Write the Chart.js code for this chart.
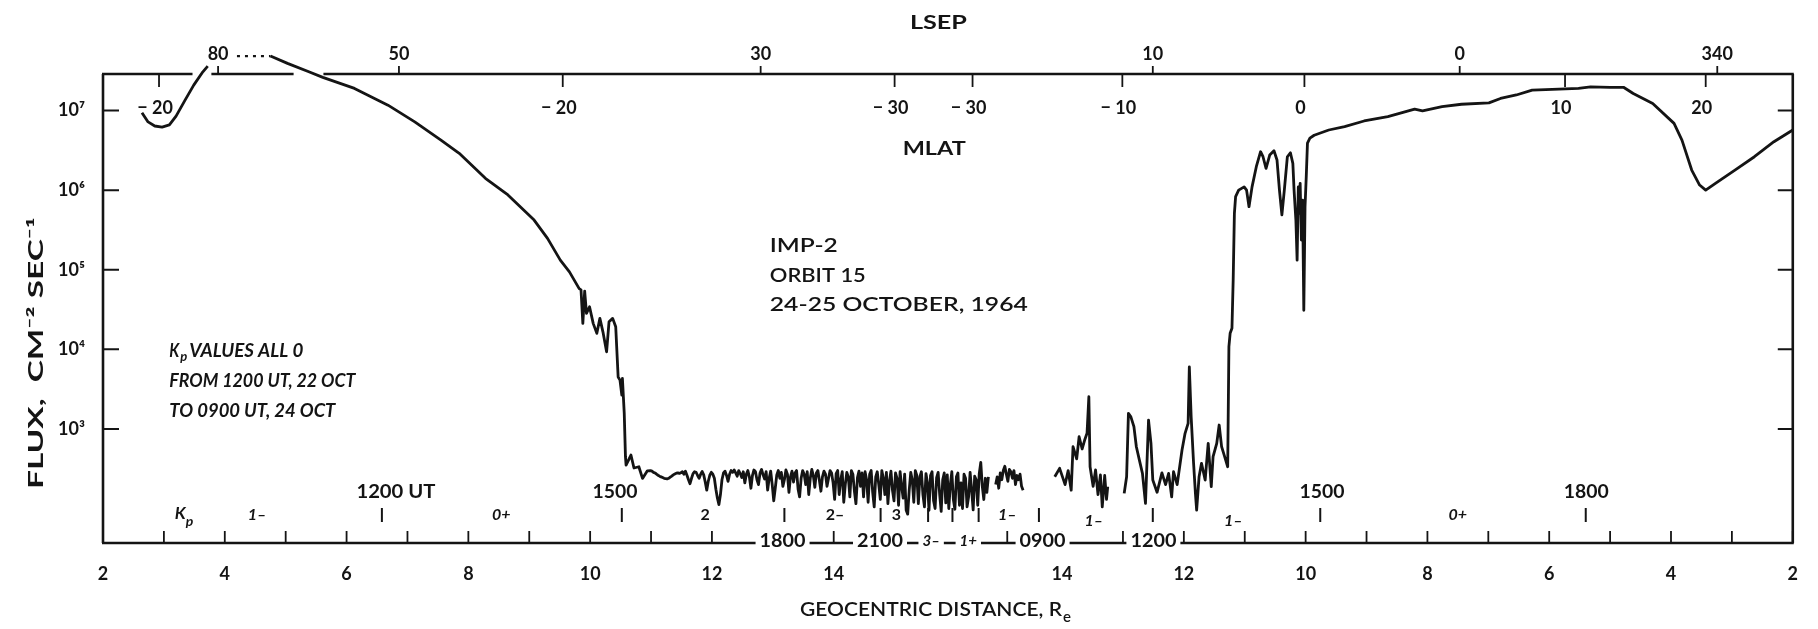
<!DOCTYPE html>
<html>
<head>
<meta charset="utf-8">
<title>IMP-2 orbit 15 flux</title>
<script src="https://cdn.jsdelivr.net/npm/chart.js@4.4.0/dist/chart.umd.min.js"></script>
<style>
  html, body { margin: 0; padding: 0; background: #fff; }
  canvas { display: block; }
</style>
</head>
<body>
<canvas id="chart" width="1818" height="629"></canvas>
<script>
const ink = "#141414";
const family = 'Lato, "DejaVu Sans", sans-serif';

// broken distance axis: outbound R = x, inbound R = inboundOrigin - x
const inboundOrigin = 31.75;
const distanceTicks = [2, 3, 4, 5, 6, 7, 8, 9, 10, 11, 12, 13, 14];
const breakTickU = [16.85];
const fluxTicks = [1e3, 1e4, 1e5, 1e6, 1e7];
const yMin = 36.9;
const yMax = 2.88e7;

// flux trace
const lowPassU = [2.64, 2.74, 2.85, 2.97, 3.09, 3.20, 3.35, 3.49, 3.64, 3.72];
const lowPassFlux = [9.4e6, 7.2e6, 6.4e6, 6.2e6, 6.6e6, 8.5e6, 1.36e7, 2.09e7, 3.07e7, 3.62e7];

const dottedU = [4.20, 4.75];
const dottedFlux = [4.84e7, 4.84e7];

const declineU = [4.75, 5.03, 5.38, 5.61, 6.13, 6.68, 7.12, 7.55, 7.85, 8.28,
	8.65, 9.08, 9.30, 9.51, 9.66, 9.82, 9.85, 9.88, 9.91, 9.94,
	9.99, 10.05, 10.11, 10.16, 10.21, 10.27, 10.31, 10.37, 10.42, 10.46,
	10.49, 10.52, 10.53, 10.56, 10.58, 10.59, 10.67, 10.72, 10.80, 10.86, 10.94];
const declineFlux = [4.84e7, 3.92e7, 3.07e7, 2.61e7, 1.90e7, 1.17e7, 7.2e6, 4.26e6, 2.90e6, 1.41e6,
	8.7e5, 4.21e5, 2.48e5, 1.32e5, 9.4e4, 5.8e4, 5.6e4, 2.12e4, 5.4e4, 2.83e4,
	3.43e4, 2.12e4, 1.59e4, 2.45e4, 1.66e4, 9.3e3, 2.22e4, 2.45e4, 1.92e4, 4.5e3,
	4.1e3, 2.67e3, 4.3e3, 1.57e3, 448, 352, 470, 323, 335, 239, 298];

// background counts beyond the boundary, sampled every 0.025 R
const noiseStepU = 0.025;
const outNoiseStartU = 10.99;
const outNoiseFlux = [
	300, 295, 285, 280, 270, 262, 255, 250, 245, 240, 238, 236, 240, 248, 256, 265, 272, 278, 280, 276,
	282, 290, 270, 295, 262, 230, 205, 240, 275, 290, 286, 260, 240, 270, 292, 265, 215, 170, 220, 262,
	285, 270, 240, 175, 135, 112, 150, 230, 280, 295, 260, 220, 270, 300, 285, 305, 280, 255, 300, 275,
	245, 290, 210, 270, 300, 250, 180, 260, 305, 290, 230, 200, 280, 310, 265, 235, 290, 170, 240, 295,
	200, 125, 180, 265, 300, 240, 285, 190, 230, 305, 270, 160, 250, 295, 215, 280, 300, 175, 140, 240,
	300, 270, 200, 290, 150, 240, 310, 260, 185, 280, 300, 225, 165, 250, 295, 270, 190, 240, 300, 280,
	210, 130, 275, 300, 150, 230, 290, 120, 200, 285, 250, 140, 300, 270, 165, 115, 245, 295, 190, 280,
	140, 290, 230, 120, 270, 300, 160, 105, 250, 290, 200, 130, 300, 240, 150, 285, 115, 220, 295, 170,
	125, 280, 240, 110, 290, 190, 135, 270, 95, 85, 170, 285, 230, 120, 300, 260, 115, 250, 290, 150,
	105, 275, 210, 95, 260, 290, 125, 100, 245, 285, 150, 92, 230, 280, 118, 265, 100, 200, 290, 130,
	98, 250, 280, 110, 210, 100, 270, 240, 105, 140, 285, 170, 96, 255, 230, 110, 275, 380, 190, 130,
	240, 160, 250];
const apogeeStartU = 16.66;
const apogeeFlux = [200, 250, 180, 280, 230, 300, 340, 270, 220, 310, 290, 240, 300, 200, 260, 230, 270, 190, 170];

const inboundU = [17.63, 17.71, 17.80, 17.85, 17.90, 17.93, 17.99, 18.03, 18.08, 18.12,
	18.16, 18.19, 18.21, 18.26, 18.30, 18.34, 18.38, 18.41, 18.45, 18.48,
	18.50, 18.64, 18.77, 18.81, 18.84, 18.88, 18.93, 18.97, 19.02, 19.07,
	19.12, 19.17, 19.21, 19.24, 19.31, 19.39, 19.45, 19.50, 19.55, 19.58,
	19.64, 19.72, 19.77, 19.82, 19.84, 19.87, 19.91, 19.94, 19.96, 20.00,
	20.04, 20.10, 20.15, 20.20, 20.23, 20.29, 20.33, 20.37, 20.42, 20.47,
	20.49, 20.51, 20.54, 20.56, 20.58, 20.60, 20.65, 20.74, 20.78, 20.82,
	20.87, 20.94, 21.01, 21.05, 21.10, 21.16, 21.23, 21.28, 21.32, 21.36,
	21.40, 21.45, 21.50, 21.54, 21.56, 21.59, 21.61, 21.63, 21.64, 21.66,
	21.68, 21.70, 21.72, 21.74, 21.76, 21.78, 21.82, 21.89, 22.13, 22.39,
	22.71, 23.10, 23.54, 23.67, 23.99, 24.31, 24.76, 24.95, 25.21, 25.47,
	25.91, 26.23, 26.43, 26.75, 26.97, 27.13, 27.45, 27.80, 27.93, 28.09,
	28.22, 28.32, 28.48, 28.80, 29.12, 29.44, 29.75];
const inboundFlux = [251, 320, 200, 300, 170, 598, 420, 798, 560, 720,
	881, 2540, 335, 190, 305, 150, 264, 105, 260, 130,
	188, null, 155, 251, 1570, 1420, 1070, 598, 406, 277,
	116, 1290, 659, 228, 160, 280, 200, 277, 140, 290,
	200, 543, 881, 1175, 6040, 1420, 370, 155, 95.7, 251,
	370, 228, 659, 188, 448, 659, 1120, 598, 448, 335,
	1.08e4, 1.59e4, 1.84e4, 7.4e4, 5.1e5, 8.3e5, 1.0e6, 1.1e6, 1.0e6, 6.2e5,
	1.1e6, 1.97e6, 3.04e6, 2.63e6, 1.88e6, 2.76e6, 3.13e6, 2.39e6, 1.0e6, 4.9e5,
	1.0e6, 2.63e6, 2.95e6, 2.17e6, 1.0e6, 4.2e5, 1.32e5, 1.1e6, 5.1e5, 1.22e6,
	2.36e5, 7.5e5, 3.1e4, 6.2e5, 1.47e6, 3.9e6, 4.5e6, 4.9e6, 5.7e6, 6.3e6,
	7.4e6, 8.4e6, 1.04e7, 9.9e6, 1.12e7, 1.20e7, 1.25e7, 1.42e7, 1.57e7, 1.81e7,
	1.86e7, 1.90e7, 1.99e7, 1.96e7, 1.96e7, 1.64e7, 1.23e7, 6.9e6, 4.26e6, 1.79e6,
	1.16e6, 1.0e6, 1.22e6, 1.79e6, 2.63e6, 4.06e6, 5.7e6];

// annotation scales along the top and bottom
const lsepU = [3.89, 6.86, 12.80, 19.24, 24.28, 28.51];
const lsepLabels = ["80", "50", "30", "10", "0", "340"];
const mlatU = [2.92, 9.55, 15.0, 16.28, 18.74, 21.73, 26.01, 28.32];
const mlatLabels = ["\u2212 20", "\u2212 20", "\u2212 30", "\u2212 30", "\u2212 10", "0", "10", "20"];
const utU = [6.81, 10.41, 22.02, 26.36];
const utLabels = ["1200 UT", "1500", "1500", "1800"];
const utBarU = [6.58, 10.52, 13.19, 14.77, 15.55, 15.95, 16.38, 17.37, 19.24, 21.99, 26.35];
const kpU = [4.53, 8.54, 11.89, 14.02, 15.03, 16.85, 18.27, 20.56, 24.25];
const kpLabels = ["1\u2013", "0+", "2", "2\u2013", "3", "1\u2013", "1\u2013", "1\u2013", "0+"];
const kpItalic = [true, true, false, false, false, true, true, true, true];
const axisTimeU = [13.16, 14.76, 15.60, 16.21, 17.43, 19.25];
const axisTimeLabels = ["1800", "2100", "3\u2013", "1+", "0900", "1200"];
const topFrameGapsU = [[3.47, 3.78], [5.13, 5.62]];

const fluxPoints = [];
lowPassU.forEach((u, i) => fluxPoints.push({ x: u, y: lowPassFlux[i] }));
fluxPoints.push({ x: 3.96, y: null });
declineU.forEach((u, i) => fluxPoints.push({ x: u, y: declineFlux[i] }));
outNoiseFlux.forEach((f, i) => fluxPoints.push({ x: outNoiseStartU + i * noiseStepU, y: f }));
fluxPoints.push({ x: 16.60, y: null });
apogeeFlux.forEach((f, i) => fluxPoints.push({ x: apogeeStartU + i * noiseStepU, y: f }));
fluxPoints.push({ x: 17.40, y: null });
inboundU.forEach((u, i) => fluxPoints.push({ x: u, y: inboundFlux[i] }));

const dottedPoints = dottedU.map((u, i) => ({ x: u, y: dottedFlux[i] }));

const xTickValues = distanceTicks.concat(distanceTicks.slice().reverse().map((r) => inboundOrigin - r));

const supDigits = { 3: "\u00b3", 4: "\u2074", 5: "\u2075", 6: "\u2076", 7: "\u2077" };

function drawText(ctx, str, x, y, o) {
	ctx.save();
	ctx.font = `${o.italic ? "italic " : ""}${o.weight || 700} ${o.size}px ${family}`;
	ctx.textBaseline = "middle";
	ctx.textAlign = "left";
	const w = ctx.measureText(str).width;
	const sx = o.width ? o.width / w : 1;
	const drawn = w * sx;
	let left = x;
	if (o.align === "center") left = x - drawn / 2;
	if (o.align === "right") left = x - drawn;
	if (o.bg) {
		ctx.fillStyle = "#fff";
		ctx.fillRect(left - 4, y - o.size * 0.55, drawn + 8, o.size * 1.1);
	}
	ctx.fillStyle = ink;
	ctx.translate(left, y);
	ctx.scale(sx, 1);
	ctx.fillText(str, 0, 0);
	ctx.restore();
	return drawn;
}

function vline(ctx, x, y1, y2) {
	ctx.beginPath();
	ctx.moveTo(x, y1);
	ctx.lineTo(x, y2);
	ctx.stroke();
}

const decorations = {
	id: "decorations",
	afterDraw(chart) {
		const { ctx, chartArea: a } = chart;
		const xs = chart.scales.x;
		const ys = chart.scales.y;
		const px = (u) => xs.getPixelForValue(u);
		ctx.save();
		ctx.strokeStyle = ink;
		ctx.lineCap = "butt";

		// frame, top edge broken where the trace runs over it
		ctx.lineWidth = 2.6;
		vline(ctx, a.left, a.top, a.bottom);
		vline(ctx, a.right, a.top, a.bottom);
		ctx.beginPath();
		ctx.moveTo(a.left - 1, a.bottom);
		ctx.lineTo(a.right + 1, a.bottom);
		let start = a.left - 1;
		for (const [g0, g1] of topFrameGapsU) {
			ctx.moveTo(start, a.top);
			ctx.lineTo(px(g0), a.top);
			start = px(g1);
		}
		ctx.moveTo(start, a.top);
		ctx.lineTo(a.right + 1, a.top);
		ctx.stroke();

		// inward tick marks
		ctx.lineWidth = 1.8;
		for (const t of xs.ticks) vline(ctx, px(t.value), a.bottom, a.bottom - 12);
		for (const u of breakTickU) vline(ctx, px(u), a.bottom, a.bottom - 12);
		ctx.lineWidth = 2;
		for (const t of ys.ticks) {
			const y = ys.getPixelForValue(t.value);
			ctx.beginPath();
			ctx.moveTo(a.left, y);
			ctx.lineTo(a.left + 16, y);
			ctx.moveTo(a.right, y);
			ctx.lineTo(a.right - 15, y);
			ctx.stroke();
		}

		// LSEP above the frame, MLAT below its top edge
		ctx.lineWidth = 1.8;
		drawText(ctx, "LSEP", px(15.72), 23, { size: 19, width: 57, align: "center" });
		lsepU.forEach((u, i) => {
			vline(ctx, px(u), a.top, a.top - 8);
			drawText(ctx, lsepLabels[i], px(u), a.top - 20, { size: 18, align: "center" });
		});
		mlatU.forEach((u, i) => {
			vline(ctx, px(u), a.top, a.top + 13);
			drawText(ctx, mlatLabels[i], px(u) - 4, a.top + 34, { size: 18, align: "center" });
		});
		drawText(ctx, "MLAT", px(15.65), 149, { size: 19, width: 63, align: "center" });

		// orbit caption
		const cx = px(12.95);
		drawText(ctx, "IMP-2", cx, 246, { size: 20, weight: 600, width: 68 });
		drawText(ctx, "ORBIT 15", cx, 276, { size: 20, weight: 600, width: 96 });
		drawText(ctx, "24-25 OCTOBER, 1964", cx, 305, { size: 20, weight: 600, width: 258 });

		// Kp note
		const kx = px(3.09);
		const kw = drawText(ctx, "K", kx, 351, { size: 18, italic: true, width: 10 });
		drawText(ctx, "p", kx + kw + 1, 357, { size: 13, italic: true });
		drawText(ctx, "VALUES ALL 0", kx + 20, 351, { size: 18, italic: true, width: 114 });
		drawText(ctx, "FROM 1200 UT, 22 OCT", kx, 381, { size: 18, italic: true, width: 186 });
		drawText(ctx, "TO 0900 UT, 24 OCT", kx, 411, { size: 18, italic: true, width: 166 });

		// UT times and Kp index along the bottom
		utU.forEach((u, i) => {
			drawText(ctx, utLabels[i], px(u), 492, { size: 18, align: "center", width: i === 0 ? 79 : 45 });
		});
		ctx.lineWidth = 2;
		for (const u of utBarU) vline(ctx, px(u), 508, 522);
		const kpx = px(3.31);
		const kpw = drawText(ctx, "K", kpx - 8, 514, { size: 17, italic: true });
		drawText(ctx, "p", kpx - 8 + kpw, 521, { size: 14, italic: true });
		kpU.forEach((u, i) => {
			const low = i === 6 || i === 7;
			drawText(ctx, kpLabels[i], px(u), low ? 521 : 515, { size: 16, italic: kpItalic[i], align: "center" });
		});
		axisTimeU.forEach((u, i) => {
			const small = axisTimeLabels[i].length < 3;
			drawText(ctx, axisTimeLabels[i], px(u), 541, { size: small ? 15 : 18, italic: small, align: "center", width: small ? null : 46, bg: true });
		});

		// axis titles
		const tx = 800;
		const tw = drawText(ctx, "GEOCENTRIC DISTANCE, R", tx, 610, { size: 20, weight: 600, width: 262 });
		drawText(ctx, "e", tx + tw + 1, 617, { size: 15, weight: 600 });
		ctx.translate(36, 353);
		ctx.rotate(-Math.PI / 2);
		drawText(ctx, "FLUX,  CM\u207b\u00b2 SEC\u207b\u00b9", 0, 0, { size: 21, align: "center", width: 272 });
		ctx.restore();
	},
};

new Chart(document.getElementById("chart"), {
	type: "line",
	data: {
		datasets: [
			{
				label: "Flux",
				data: fluxPoints,
				borderColor: ink,
				borderWidth: 2.8,
				borderJoinStyle: "round",
				pointRadius: 0,
				tension: 0,
				spanGaps: false,
				clip: false,
			},
			{
				label: "Flux (dotted)",
				data: dottedPoints,
				borderColor: ink,
				borderWidth: 2.2,
				borderDash: [3, 5],
				pointRadius: 0,
				clip: false,
			},
		],
	},
	options: {
		responsive: false,
		animation: false,
		layout: { padding: { top: 74, right: 6, left: 0, bottom: 0 } },
		plugins: { legend: { display: false }, tooltip: { enabled: false } },
		scales: {
			x: {
				type: "linear",
				min: 2,
				max: 29.75,
				afterFit: (s) => { s.height = 86; },
				afterBuildTicks: (s) => { s.ticks = xTickValues.map((v) => ({ value: v })); },
				grid: { display: false, drawTicks: false },
				border: { display: false },
				ticks: {
					autoSkip: false,
					maxRotation: 0,
					padding: 20,
					color: ink,
					font: { family: family, size: 18, weight: "bold" },
					callback: (v) => {
						const r = v <= 15 ? v : Math.round(inboundOrigin - v);
						return r % 2 === 0 ? String(r) : "";
					},
				},
			},
			y: {
				type: "logarithmic",
				min: yMin,
				max: yMax,
				afterFit: (s) => { s.width = 103; },
				afterBuildTicks: (s) => { s.ticks = fluxTicks.map((v) => ({ value: v })); },
				grid: { display: false, drawTicks: false },
				border: { display: false },
				ticks: {
					padding: 18,
					color: ink,
					font: { family: family, size: 18, weight: "bold" },
					callback: (v) => "10" + supDigits[Math.round(Math.log10(v))],
				},
			},
		},
	},
	plugins: [decorations],
});
</script>
</body>
</html>
